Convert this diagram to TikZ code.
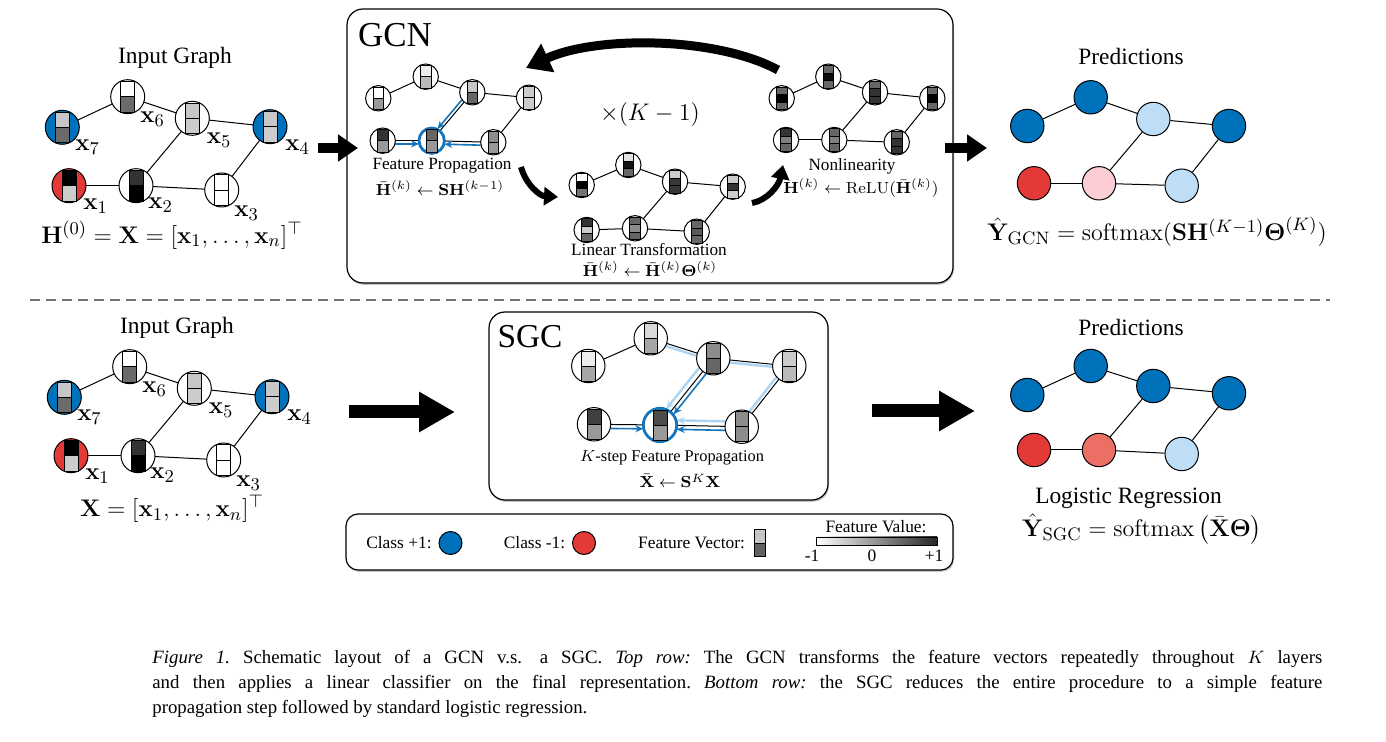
\documentclass[tikz,border=0pt]{standalone}
\usepackage[no-math]{fontspec}
\setmainfont{Liberation Serif}
\usepackage{amsmath}
\usetikzlibrary{arrows.meta,calc,shadows}
\pgfdeclarelayer{bg}
\pgfdeclarelayer{mid}
\pgfsetlayers{bg,mid,main}

\definecolor{cpos}{RGB}{0,114,187}
\definecolor{cneg}{RGB}{228,58,55}
\definecolor{clb}{RGB}{190,222,247}
\definecolor{cpink}{RGB}{252,205,212}
\definecolor{csal}{RGB}{236,111,102}
\definecolor{hblue}{RGB}{20,117,188}
\definecolor{lblue}{RGB}{172,212,242}

\newcommand\fsz[1]{\fontsize{#1}{#1}\selectfont}

% feature-vector node: name, position, radius(px), circle options, number of cells, cell colours
\newcommand\fv[6]{%
  \node[vnode, minimum size=#3pt, #4] (#1) at (#2) {};
  \pgfmathsetmacro\fvw{0.41*#3}%
  \pgfmathsetmacro\fvh{0.9*#3}%
  \pgfmathsetmacro\fvs{2*\fvh/#5}%
  \foreach \cc [count=\i] in {#6} {%
    \filldraw[fill=\cc, draw=black, line width=0.35pt] ($(#1)+(-\fvw,{-\fvh+(\i-1)*\fvs})$) rectangle ($(#1)+(\fvw,{-\fvh+\i*\fvs})$);
  }%
}
% edges of the input graphs (nodes named by x index)
\newcommand\xedges[2]{%
  \foreach \uu/\vv in {7/6,6/5,5/4,5/2,1/2,2/3,3/4} {\draw[#2] (#1\uu) -- (#1\vv);}%
}
% edges of the other graphs (1..4 top row, 5..7 bottom row)
\newcommand\gedges[2]{%
  \foreach \uu/\vv in {1/2,2/3,3/4,3/6,5/6,6/7,7/4} {\draw[#2] (#1\uu) -- (#1\vv);}%
}

\tikzset{
  vnode/.style={circle, draw=black, line width=0.5pt, inner sep=0pt, outer sep=0pt, fill=white},
  pnode/.style={circle, draw=black, line width=0.5pt, inner sep=0pt, minimum size=16.7pt},
  edge/.style={line width=0.5pt, black},
  hl/.style={draw=hblue, line width=1.4pt},
  barrow/.style={hblue, line width=0.8pt, -{Stealth[length=4pt,width=3.5pt]}},
  larrow/.style={lblue, line width=1.2pt, -{Stealth[length=4pt,width=3.5pt]}},
  lline/.style={lblue, line width=1.2pt},
  panel/.style={draw, line width=0.6pt, rounded corners=8pt, fill=white,
     drop shadow={shadow xshift=0.5pt, shadow yshift=-0.9pt, fill=black!45}},
  biglbl/.style={font=\fsz{11.7}, inner sep=0pt},
  bigmath/.style={font=\fsz{13}, inner sep=0pt},
  midlbl/.style={font=\fsz{8.6}, inner sep=0pt},
  midmath/.style={font=\fsz{8.4}, inner sep=0pt},
  smlbl/.style={font=\fsz{8.2}, inner sep=0pt},
  smmath/.style={font=\fsz{8.4}, inner sep=0pt},
  leglbl/.style={font=\fsz{8.7}, inner sep=0pt},
  xlbl/.style={font=\fsz{13}, inner sep=0pt},
  toparrow/.style={line width=5pt, -{Triangle[length=10pt,width=13pt]}},
  botarrow/.style={line width=6.5pt, -{Triangle[length=18pt,width=19pt]}},
  bigcurve/.style={line width=4.5pt, -{Triangle[length=12pt,width=15pt]}},
  medcurve/.style={line width=3pt, -{Triangle[length=7pt,width=9pt]}},
}

\begin{document}
\begin{tikzpicture}[x=0.5pt,y=-0.5pt]
\useasboundingbox (0,0) rectangle (1386,742);

% ---------- panels ----------
\begin{pgfonlayer}{bg}
\fill[white] (0,0) rectangle (1386,742);
\node[panel, minimum width=303pt, minimum height=137pt] (gcnbox) at (650,146) {};
\node[panel, minimum width=169.5pt, minimum height=94pt] (sgcbox) at (658.5,406) {};
\node[panel, rounded corners=6pt, minimum width=303.5pt, minimum height=28pt] (legbox) at (649.5,542) {};
\end{pgfonlayer}

% ---------- top input graph ----------
\node[biglbl] (tin) at (175,58) {Input Graph};
\fv{a7}{62.3,127.3}{17}{fill=cpos}{2}{black!22,black!58}
\fv{a6}{127.7,96.7}{17}{}{2}{white,black!58}
\fv{a5}{192.3,118.3}{17}{}{2}{black!22,black!20}
\fv{a4}{270,126.7}{17}{fill=cpos}{2}{black!22,black!20}
\fv{a1}{69,185.7}{17}{fill=cneg}{2}{black,black!20}
\fv{a2}{136,185.7}{17}{}{2}{black!80,black}
\fv{a3}{221.7,190}{17}{}{2}{white,white}
\begin{pgfonlayer}{mid}\xedges{a}{edge}\end{pgfonlayer}
\node[xlbl] (ta7) at (87.5,147) {$\mathbf{x}_7$};
\node[xlbl] (ta6) at (152.5,119) {$\mathbf{x}_6$};
\node[xlbl] (ta5) at (219,140) {$\mathbf{x}_5$};
\node[xlbl] (ta4) at (297.5,147) {$\mathbf{x}_4$};
\node[xlbl] (ta1) at (95.5,206) {$\mathbf{x}_1$};
\node[xlbl] (ta2) at (160.5,205) {$\mathbf{x}_2$};
\node[xlbl] (ta3) at (246.5,213) {$\mathbf{x}_3$};
\node[bigmath] (tform) at (172,235) {$\mathbf{H}^{(0)}=\mathbf{X}=[\mathbf{x}_1,\ldots,\mathbf{x}_n]^\top$};

% ---------- GCN panel ----------
\node[font=\fsz{17.5}, inner sep=0pt] (gcnt) at (395,35) {GCN};
\node[font=\fsz{12.7}, inner sep=0pt] (rep) at (650,115) {$\times(K-1)$};

% feature propagation
\fv{p1}{378.3,98.3}{12.7}{}{2}{white,black!40}
\fv{p2}{425.7,76.7}{12.7}{}{2}{black!7,black!27}
\fv{p3}{472.3,92.3}{12.7}{}{2}{black!22,black!60}
\fv{p4}{529,97.7}{12.7}{}{2}{black!20,black!20}
\fv{p5}{382.7,140.7}{12.7}{}{2}{black!80,black!40}
\fv{p6}{431.7,140.7}{12.7}{hl}{2}{black!60,black!40}
\fv{p7}{493.3,142.3}{12.7}{}{2}{black!45,black!40}
\begin{pgfonlayer}{mid}
\gedges{p}{edge}
\draw[barrow, transform canvas={yshift=-1.6pt}] (p5) -- (p6);
\draw[barrow, transform canvas={yshift=-1.6pt}] (p7) -- (p6);
\draw[barrow, transform canvas={xshift=-1.2pt,yshift=1pt}] (p3) -- (p6);
\end{pgfonlayer}
\node[midlbl] (fpt) at (442,166) {Feature Propagation};
\node[midmath] (fpf) at (440,188) {$\bar{\mathbf{H}}^{(k)}\leftarrow\mathbf{S}\mathbf{H}^{(k-1)}$};

% linear transformation
\fv{l1}{581.7,185}{12.7}{}{3}{white,black,black!55}
\fv{l2}{628.3,165}{12.7}{}{3}{black!12,black!92,black!60}
\fv{l3}{675,181.7}{12.7}{}{3}{black!20,black!78,black!78}
\fv{l4}{732.7,186.7}{12.7}{}{3}{black!20,black!80,black!20}
\fv{l5}{586.7,230}{12.7}{}{3}{black!80,black!20,black!60}
\fv{l6}{635,228.3}{12.7}{}{3}{black!60,black!45,black!60}
\fv{l7}{696.7,231.7}{12.7}{}{3}{black!60,black!65,black!60}
\begin{pgfonlayer}{mid}\gedges{l}{edge}\end{pgfonlayer}
\node[midlbl] (ltt) at (649,250) {Linear Transformation};
\node[midmath] (ltf) at (650,269) {$\bar{\mathbf{H}}^{(k)}\leftarrow\bar{\mathbf{H}}^{(k)}\boldsymbol{\Theta}^{(k)}$};

% nonlinearity
\fv{n1}{781.7,98.3}{12.7}{}{3}{black!60,black,black!60}
\fv{n2}{828.3,76.7}{12.7}{}{3}{black!60,black!95,black!60}
\fv{n3}{875,92.3}{12.7}{}{3}{black!60,black!80,black!80}
\fv{n4}{932.3,98.3}{12.7}{}{3}{black!60,black,black!60}
\fv{n5}{786,140}{12.7}{}{3}{black!80,black!50,black!60}
\fv{n6}{834.3,140}{12.7}{}{3}{black!60,black!50,black!60}
\fv{n7}{896.7,142.3}{12.7}{}{3}{black!60,black!80,black!80}
\begin{pgfonlayer}{mid}\gedges{n}{edge}\end{pgfonlayer}
\node[midlbl] (nlt) at (852,166) {Nonlinearity};
\node[midmath] (nlf) at (861,188) {$\mathbf{H}^{(k)}\leftarrow\mathrm{ReLU}(\bar{\mathbf{H}}^{(k)})$};

% curved arrows
\coordinate (c1s) at (778,70); \coordinate (c1e) at (526,68);
\draw[bigcurve] (c1s) .. controls (715,36) and (595,36) .. (c1e);
\coordinate (c2s) at (521,167); \coordinate (c2e) at (558,197);
\draw[medcurve] (c2s) .. controls (526,185) and (540,196) .. (c2e);
\coordinate (c3s) at (752,203); \coordinate (c3e) at (783,165);
\draw[medcurve] (c3s) .. controls (768,200) and (779,185) .. (c3e);

% ---------- top predictions ----------
\node[biglbl] (tpr) at (1131,57) {Predictions};
\node[pnode, fill=cpos] (q1) at (1027.3,126) {};
\node[pnode, fill=cpos] (q2) at (1090.7,97.3) {};
\node[pnode, fill=clb] (q3) at (1153.3,119) {};
\node[pnode, fill=cpos] (q4) at (1229,126) {};
\node[pnode, fill=cneg] (q5) at (1034,183.3) {};
\node[pnode, fill=cpink] (q6) at (1099,183.3) {};
\node[pnode, fill=clb] (q7) at (1181.7,185.7) {};
\begin{pgfonlayer}{mid}\gedges{q}{edge}\end{pgfonlayer}
\node[bigmath] (tyf) at (1157,232) {$\hat{\mathbf{Y}}_{\mathrm{GCN}}=\mathrm{softmax}(\mathbf{S}\mathbf{H}^{(K-1)}\boldsymbol{\Theta}^{(K)})$};

% top arrows
\coordinate (t1s) at (318,148); \coordinate (t1e) at (358,148);
\draw[toparrow] (t1s) -- (t1e);
\coordinate (t2s) at (945,148); \coordinate (t2e) at (987,148);
\draw[toparrow] (t2s) -- (t2e);

% ---------- separator ----------
\coordinate (dl) at (30,300); \coordinate (dr) at (1330,300);
\draw[black!55, line width=0.6pt, dash pattern=on 5pt off 3pt] (dl) -- (dr);

% ---------- bottom input graph ----------
\node[biglbl] (bin) at (177,328) {Input Graph};
\fv{b7}{64.3,397.3}{17}{fill=cpos}{2}{black!22,black!58}
\fv{b6}{129.7,366.7}{17}{}{2}{white,black!58}
\fv{b5}{194.3,388.3}{17}{}{2}{black!22,black!20}
\fv{b4}{272,396.7}{17}{fill=cpos}{2}{black!22,black!20}
\fv{b1}{71,455.7}{17}{fill=cneg}{2}{black,black!20}
\fv{b2}{138,455.7}{17}{}{2}{black!80,black}
\fv{b3}{223.7,460}{17}{}{2}{white,white}
\begin{pgfonlayer}{mid}\xedges{b}{edge}\end{pgfonlayer}
\node[xlbl] (tb7) at (89.5,417) {$\mathbf{x}_7$};
\node[xlbl] (tb6) at (154.5,389) {$\mathbf{x}_6$};
\node[xlbl] (tb5) at (221,410) {$\mathbf{x}_5$};
\node[xlbl] (tb4) at (299.5,417) {$\mathbf{x}_4$};
\node[xlbl] (tb1) at (97.5,476) {$\mathbf{x}_1$};
\node[xlbl] (tb2) at (162.5,475) {$\mathbf{x}_2$};
\node[xlbl] (tb3) at (248.5,483) {$\mathbf{x}_3$};
\node[bigmath] (bform) at (172,509) {$\mathbf{X}=[\mathbf{x}_1,\ldots,\mathbf{x}_n]^\top$};

% ---------- SGC panel ----------
\node[font=\fsz{16.7}, inner sep=0pt] (sgct) at (530,337) {SGC};
\fv{s1}{588.3,366}{16.7}{}{2}{black!7,black!35}
\fv{s2}{650.7,338.3}{16.7}{}{2}{black!15,black!35}
\fv{s3}{713.3,358.3}{16.7}{}{2}{black!45,black!60}
\fv{s4}{789.3,366}{16.7}{}{2}{black!20,black!27}
\fv{s5}{594,424.3}{16.7}{}{2}{black!75,black!40}
\fv{s6}{660,425}{16.7}{hl}{2}{black!70,black!40}
\fv{s7}{741.7,426.7}{16.7}{}{2}{black!45,black!45}
\begin{pgfonlayer}{mid}
\draw[edge] (s1) -- (s2);
\draw[lline, transform canvas={xshift=-0.4pt,yshift=-1.3pt}] (s2) -- (s3);
\draw[edge] (s2) -- (s3);
\draw[lline, transform canvas={yshift=-1.3pt}] (s3) -- (s4);
\draw[edge] (s3) -- (s4);
\draw[lline, transform canvas={xshift=-1.3pt,yshift=1pt}] (s4) -- (s7);
\draw[edge] (s4) -- (s7);
\draw[larrow, transform canvas={xshift=-2pt,yshift=1.6pt}] (s3) -- (s6);
\draw[edge] (s3) -- (s6);
\draw[barrow, transform canvas={xshift=1.6pt,yshift=-1.2pt}] (s3) -- (s6);
\draw[edge] (s5) -- (s6);
\draw[barrow, transform canvas={yshift=-2pt}] (s5) -- (s6);
\draw[larrow, transform canvas={yshift=2.5pt}] (s7) -- (s6);
\draw[edge] (s7) -- (s6);
\draw[barrow, transform canvas={yshift=-2pt}] (s7) -- (s6);
\end{pgfonlayer}
\node[smlbl] (kst) at (672,458) {$K$-step Feature Propagation};
\node[smmath] (ksf) at (680,481) {$\bar{\mathbf{X}}\leftarrow\mathbf{S}^K\mathbf{X}$};

% bottom arrows
\coordinate (b1s) at (349,412); \coordinate (b1e) at (455,412);
\draw[botarrow] (b1s) -- (b1e);
\coordinate (b2s) at (872,411); \coordinate (b2e) at (975,411);
\draw[botarrow] (b2s) -- (b2e);

% ---------- bottom predictions ----------
\node[biglbl] (bpr) at (1131,327) {Predictions};
\node[pnode, fill=cpos] (r1) at (1027.3,395) {};
\node[pnode, fill=cpos] (r2) at (1090.7,366) {};
\node[pnode, fill=cpos] (r3) at (1153.3,386) {};
\node[pnode, fill=cpos] (r4) at (1229,393.3) {};
\node[pnode, fill=cneg] (r5) at (1034,450) {};
\node[pnode, fill=csal] (r6) at (1099,450) {};
\node[pnode, fill=clb] (r7) at (1181.7,454) {};
\begin{pgfonlayer}{mid}\gedges{r}{edge}\end{pgfonlayer}
\node[biglbl] (lrt) at (1128.5,498) {Logistic Regression};
\node[bigmath] (byf) at (1142,529) {$\hat{\mathbf{Y}}_{\mathrm{SGC}}=\mathrm{softmax}\left(\bar{\mathbf{X}}\boldsymbol{\Theta}\right)$};

% ---------- legend ----------
\node[leglbl] (lg1) at (399,543) {Class +1:};
\node[pnode, fill=cpos, minimum size=11.5pt] (lgc1) at (450.5,543) {};
\node[leglbl] (lg2) at (534.5,543) {Class -1:};
\node[pnode, fill=cneg, minimum size=11.5pt] (lgc2) at (584,543) {};
\node[leglbl] (lg3) at (691.5,543) {Feature Vector:};
\node[draw, line width=0.4pt, minimum width=5pt, minimum height=13pt, inner sep=0pt] (lgv) at (760,543) {};
\filldraw[fill=black!22, line width=0.4pt] (lgv.north west) rectangle (lgv.east);
\filldraw[fill=black!62, line width=0.4pt] (lgv.west) rectangle (lgv.south east);
\node[leglbl] (lg4) at (876,527) {Feature Value:};
\node[draw, line width=0.4pt, minimum width=60.5pt, minimum height=4pt, inner sep=0pt, left color=white, right color=black!85] (lgbar) at (876.5,541) {};
\node[leglbl] (lgm) at (812,556) {-1};
\node[leglbl] (lgz) at (872,556) {0};
\node[leglbl] (lgp) at (934,556) {+1};

% ---------- caption ----------
\node[anchor=base west, inner sep=0pt, font=\fsz{9.4}\frenchspacing] (cap1) at (152,663) {\makebox[585pt][s]{\textit{Figure 1.} Schematic layout of a GCN v.s.\hspace{0.25em} a SGC. \textit{Top row:} The GCN transforms the feature vectors repeatedly throughout $K$ layers}};
\node[anchor=base west, inner sep=0pt, font=\fsz{9.4}\frenchspacing] (cap2) at (152,688.5) {\makebox[585pt][s]{and then applies a linear classifier on the final representation. \textit{Bottom row:} the SGC reduces the entire procedure to a simple feature}};
\node[anchor=base west, inner sep=0pt, font=\fsz{9.4}\frenchspacing] (cap3) at (152,713) {propagation step followed by standard logistic regression.};
\end{tikzpicture}
\end{document}
